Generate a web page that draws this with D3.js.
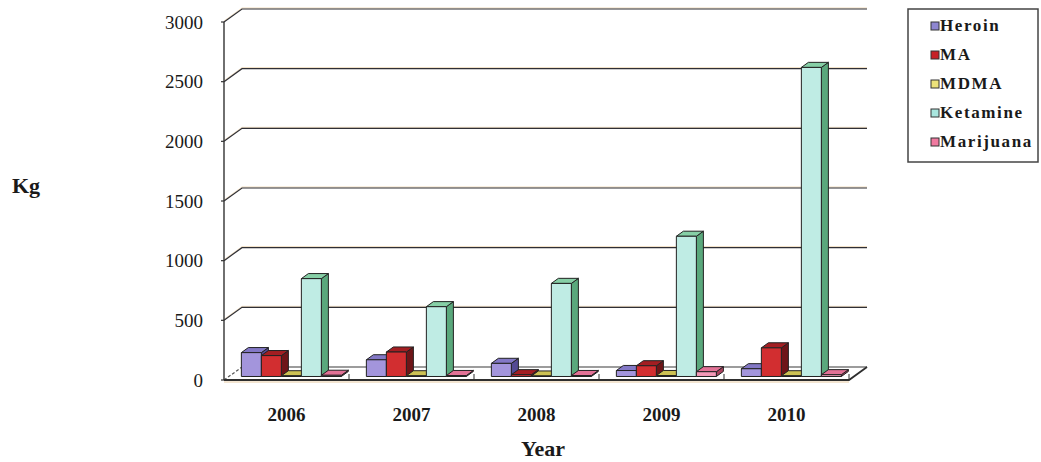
<!DOCTYPE html>
<html>
<head>
<meta charset="utf-8">
<script src="https://cdn.jsdelivr.net/npm/d3@7"></script>
<style>
  html, body { margin: 0; padding: 0; background: #ffffff; }
  svg { display: block; }
</style>
</head>
<body>
<svg id="chart" width="1041" height="462"></svg>
<script>
// Seizures by drug type, kilograms per year
const years = ["2006", "2007", "2008", "2009", "2010"];
const seriesNames = ["Heroin", "MA", "MDMA", "Ketamine", "Marijuana"];
const heroin    = [200, 140, 110, 50, 65];
const ma        = [175, 205, 15, 90, 240];
const mdma      = [6, 6, 4, 8, 6];
const ketamine  = [820, 585, 780, 1175, 2590];
const marijuana = [10, 8, 8, 40, 15];
const yTicks = [0, 500, 1000, 1500, 2000, 2500, 3000];

const seriesValues = [heroin, ma, mdma, ketamine, marijuana];

// face colours: front, top, side
const palette = {
  Heroin:    { front: "#a395dc", top: "#8378c6", side: "#544a94", swatch: "#8e86d0" },
  MA:        { front: "#d22e30", top: "#a31e22", side: "#6e1518", swatch: "#c62026" },
  MDMA:      { front: "#ece27a", top: "#cdc254", side: "#8d8432", swatch: "#ece27a" },
  Ketamine:  { front: "#bfece4", top: "#86cfa6", side: "#5aa87c", swatch: "#a9e6de" },
  Marijuana: { front: "#f49ab8", top: "#e27296", side: "#a8425e", swatch: "#f07aa0" }
};

const FONT = "'Liberation Serif', 'Times New Roman', serif";
const svg = d3.select("#chart").style("font-family", FONT);
const label = sel => sel.style("font-family", FONT).attr("fill", "#1a1a1a");

// 3-D frame: front plane and the depth shift toward the back wall
const DX = 18, DY = 13;
const x = d3.scaleBand().domain(years).range([224, 849]).paddingInner(0.2).paddingOuter(0.1);
const y = d3.scaleLinear().domain([0, 3000]).range([380, 22]);
const xs = d3.scaleBand().domain(seriesNames).range([0, x.bandwidth()]);
const P = (px, v, f) => [px + f * DX, y(v) - f * DY];
const line = d3.line();

const xLeft = 224, xRight = 849;

// left wall + back wall gridlines
const grid = svg.append("g");
yTicks.forEach(v => {
  if (v === 0) return;
  const pts = [P(xLeft, v, 0), P(xLeft, v, 1), P(xRight, v, 1)];
  grid.append("path").attr("d", line(pts.map(p => [p[0], p[1] - 1])))
    .attr("fill", "none").attr("stroke", "#e0b878").attr("stroke-opacity", 0.6).attr("stroke-width", 0.8);
  grid.append("path").attr("d", line(pts))
    .attr("fill", "none").attr("stroke", "#2f2f35").attr("stroke-width", 1.2);
});

// floor: back edge and the hidden left edge
grid.append("path").attr("d", line([P(xLeft, 0, 1), P(xRight, 0, 1)]))
  .attr("fill", "none").attr("stroke", "#3b3a3a").attr("stroke-width", 1.1);
grid.append("path").attr("d", line([P(xLeft, 0, 0), P(xLeft, 0, 1)]))
  .attr("fill", "none").attr("stroke", "#555").attr("stroke-width", 1.2)
  .attr("stroke-dasharray", "3,2");

// value axis line with small outer ticks
grid.append("path").attr("d", line([P(xLeft, 0, 0), P(xLeft, 3000, 0)]))
  .attr("fill", "none").attr("stroke", "#333").attr("stroke-width", 1.4);
yTicks.forEach(v => {
  grid.append("path").attr("d", line([[xLeft - 3, y(v)], [xLeft, y(v)]]))
    .attr("stroke", "#333").attr("stroke-width", 1.2);
});

// value labels
svg.append("g").selectAll("text").data(yTicks).join("text")
  .call(label)
  .attr("x", 203).attr("y", d => y(d) + 6.5)
  .attr("text-anchor", "end").attr("font-size", 19)
  .text(d => d);

// bars, drawn left to right so nearer faces cover the side of the previous bar
const F0 = 0.27, F1 = 0.66;
const bars = svg.append("g");
years.forEach((yr, i) => {
  seriesNames.forEach((s, j) => {
    const v = seriesValues[j][i];
    const c = palette[s];
    const x0 = x(yr) + xs(s), x1 = x0 + xs.bandwidth();
    const g = bars.append("g").attr("stroke", "#222").attr("stroke-width", 1).attr("stroke-linejoin", "round");
    g.append("path").attr("fill", c.side)
      .attr("d", line([P(x1, 0, F0), P(x1, 0, F1), P(x1, v, F1), P(x1, v, F0)]) + "Z");
    g.append("path").attr("fill", c.top)
      .attr("d", line([P(x0, v, F0), P(x1, v, F0), P(x1, v, F1), P(x0, v, F1)]) + "Z");
    g.append("path").attr("fill", c.front)
      .attr("d", line([P(x0, 0, F0), P(x1, 0, F0), P(x1, v, F0), P(x0, v, F0)]) + "Z");
  });
});

// floor front and right edges, category tick marks
const front = svg.append("g").attr("stroke", "#2e2e2e");
front.append("path").attr("d", line([P(xLeft, 0, 0), P(xRight, 0, 0), P(xRight, 0, 1)]))
  .attr("fill", "none").attr("stroke-width", 1.8);
front.append("path").attr("d", line([[xLeft, y(0) + 2], [xRight, y(0) + 2]]))
  .attr("fill", "none").attr("stroke", "#d6a45c").attr("stroke-opacity", 0.7).attr("stroke-width", 0.8);
years.slice(1).concat(["end"]).forEach(yr => {
  const tx = yr === "end" ? xRight : x(yr) - x.step() * x.paddingInner() / 2;
  front.append("path").attr("d", line([[tx, y(0) - 6], [tx, y(0)]])).attr("stroke-width", 1);
});

// category labels
svg.append("g").selectAll("text").data(years).join("text")
  .call(label)
  .attr("x", d => x(d) + x.bandwidth() / 2)
  .attr("y", 421)
  .attr("text-anchor", "middle").attr("font-size", 19).attr("font-weight", "bold")
  .text(d => d);

// axis titles
svg.append("text").call(label).attr("x", 12).attr("y", 193)
  .attr("font-size", 22).attr("font-weight", "bold").text("Kg");
svg.append("text").call(label).attr("x", 543).attr("y", 456)
  .attr("text-anchor", "middle").attr("font-size", 22).attr("font-weight", "bold").text("Year");

// legend
const legend = svg.append("g");
legend.append("rect").attr("x", 908).attr("y", 9).attr("width", 130).attr("height", 153)
  .attr("fill", "#fff").attr("stroke", "#444").attr("stroke-width", 1.5);
const ly = d3.scalePoint().domain(seriesNames).range([31, 147]);
seriesNames.forEach(s => {
  legend.append("rect").attr("x", 931).attr("y", ly(s) - 9).attr("width", 8).attr("height", 8)
    .attr("fill", palette[s].swatch).attr("stroke", "#333").attr("stroke-width", 1);
  legend.append("text").call(label).attr("x", 940).attr("y", ly(s))
    .attr("font-size", 17).attr("font-weight", "bold").attr("letter-spacing", 1.6)
    .text(s);
});
</script>
</body>
</html>
